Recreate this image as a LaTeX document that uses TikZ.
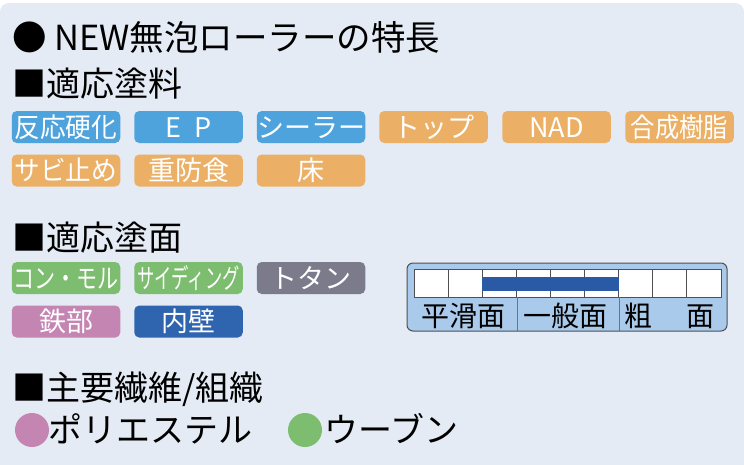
\documentclass[tikz,border=0pt]{standalone}
\usepackage{fontspec}
\setmainfont{Noto Sans CJK JP}
\usepackage{graphicx}
\definecolor{panelbg}{HTML}{E4EBF4}
\definecolor{cblue}{HTML}{4FA3DC}
\definecolor{corange}{HTML}{EBB065}
\definecolor{cgreen}{HTML}{7DBD6F}
\definecolor{cgray}{HTML}{7B7B8C}
\definecolor{cpink}{HTML}{C585B3}
\definecolor{cdblue}{HTML}{2F64AF}
\definecolor{scalefill}{HTML}{A9CAEA}
\definecolor{barblue}{HTML}{2A5AA6}
\definecolor{frame}{HTML}{505050}
\tikzset{
  badge/.style={rounded corners=5pt, minimum width=108.5pt, minimum height=32pt,
    inner sep=0pt, text=white, font=\fontsize{27}{30}\selectfont,
    text height=23.8pt, text depth=3.2pt},
  heading/.style={anchor=west, inner sep=0pt, text=black,
    font=\fontsize{34}{37}\selectfont, text height=29.9pt, text depth=4.1pt},
  scalelabel/.style={inner sep=0pt, text=black, font=\fontsize{28}{30}\selectfont,
    text height=24.6pt, text depth=3.4pt},
  dot/.style={circle, minimum size=34pt, inner sep=0pt},
  cell/.style={fill=white, draw=frame, line width=0.8pt},
}
\begin{document}
\begin{tikzpicture}[x=1pt, y=-1pt]
\clip (0,0) rectangle (744,464);
\fill[white] (0,0) rectangle (744,464);
\fill[panelbg, rounded corners=9pt] (0,3) rectangle (744,490);

% title and headings
\node[heading, font=\fontsize{34.5}{37}\selectfont] (title) at (12,38) {● NEW無泡ローラーの特長};
\node[heading] (h1) at (12,84) {■適応塗料};
\node[heading] (h2) at (12,238) {■適応塗面};
\node[heading] (h3) at (12,388) {■主要繊維/組織};

% paints
\node[badge, fill=cblue] (p1) at (66,127) {\scalebox{0.95}[1]{反応硬化}};
\node[badge, fill=cblue] (p2) at (188.5,127) {E\hspace{14pt}P\hspace{30pt}};
\node[badge, fill=cblue] (p3) at (311,127) {シーラー};
\node[badge, fill=corange] (p4) at (433.5,127) {トップ};
\node[badge, fill=corange] (p5) at (556.5,127) {NAD};
\node[badge, fill=corange] (p6) at (679.5,127) {\scalebox{0.9}[1]{合成樹脂}};
\node[badge, fill=corange] (p7) at (66,170.5) {\scalebox{0.95}[1]{サビ止め}};
\node[badge, fill=corange] (p8) at (188.5,170.5) {重防食};
\node[badge, fill=corange] (p9) at (311,170.5) {床};

% surfaces
\node[badge, fill=cgreen] (s1) at (66,278) {\scalebox{0.78}[1]{コン・モル}};
\node[badge, fill=cgreen] (s2) at (188.5,278) {\scalebox{0.64}[1]{サイディング}};
\node[badge, fill=cgray] (s3) at (311,278) {トタン};
\node[badge, fill=cpink] (s4) at (66,321.5) {鉄部};
\node[badge, fill=cdblue] (s5) at (188.5,321.5) {内壁};

% scale
\draw[fill=scalefill, draw=frame, line width=1pt, rounded corners=6pt] (407,263) rectangle (727,331);
\foreach \i in {0,...,8} {
  \draw[cell] (414+\i*34.11,269) rectangle ++(34.11,28);
}
\fill[barblue] (482,277) rectangle (619,291);
\draw[draw=frame!80, line width=0.8pt] (517,297) -- (517,331);
\draw[draw=frame!80, line width=0.8pt] (619,297) -- (619,331);
\node[scalelabel] (l1) at (463,316) {平滑面};
\node[scalelabel] (l2) at (565,316) {一般面};
\node[scalelabel] (l3) at (638,316) {粗};
\node[scalelabel] (l4) at (700,316) {面};

% fibres
\node[dot, fill=cpink] (d1) at (32,430) {};
\node[heading] (f1) at (48,430) {ポリエステル};
\node[dot, fill=cgreen] (d2) at (305,430) {};
\node[heading] (f2) at (324,430) {ウーブン};
\end{tikzpicture}
\end{document}
